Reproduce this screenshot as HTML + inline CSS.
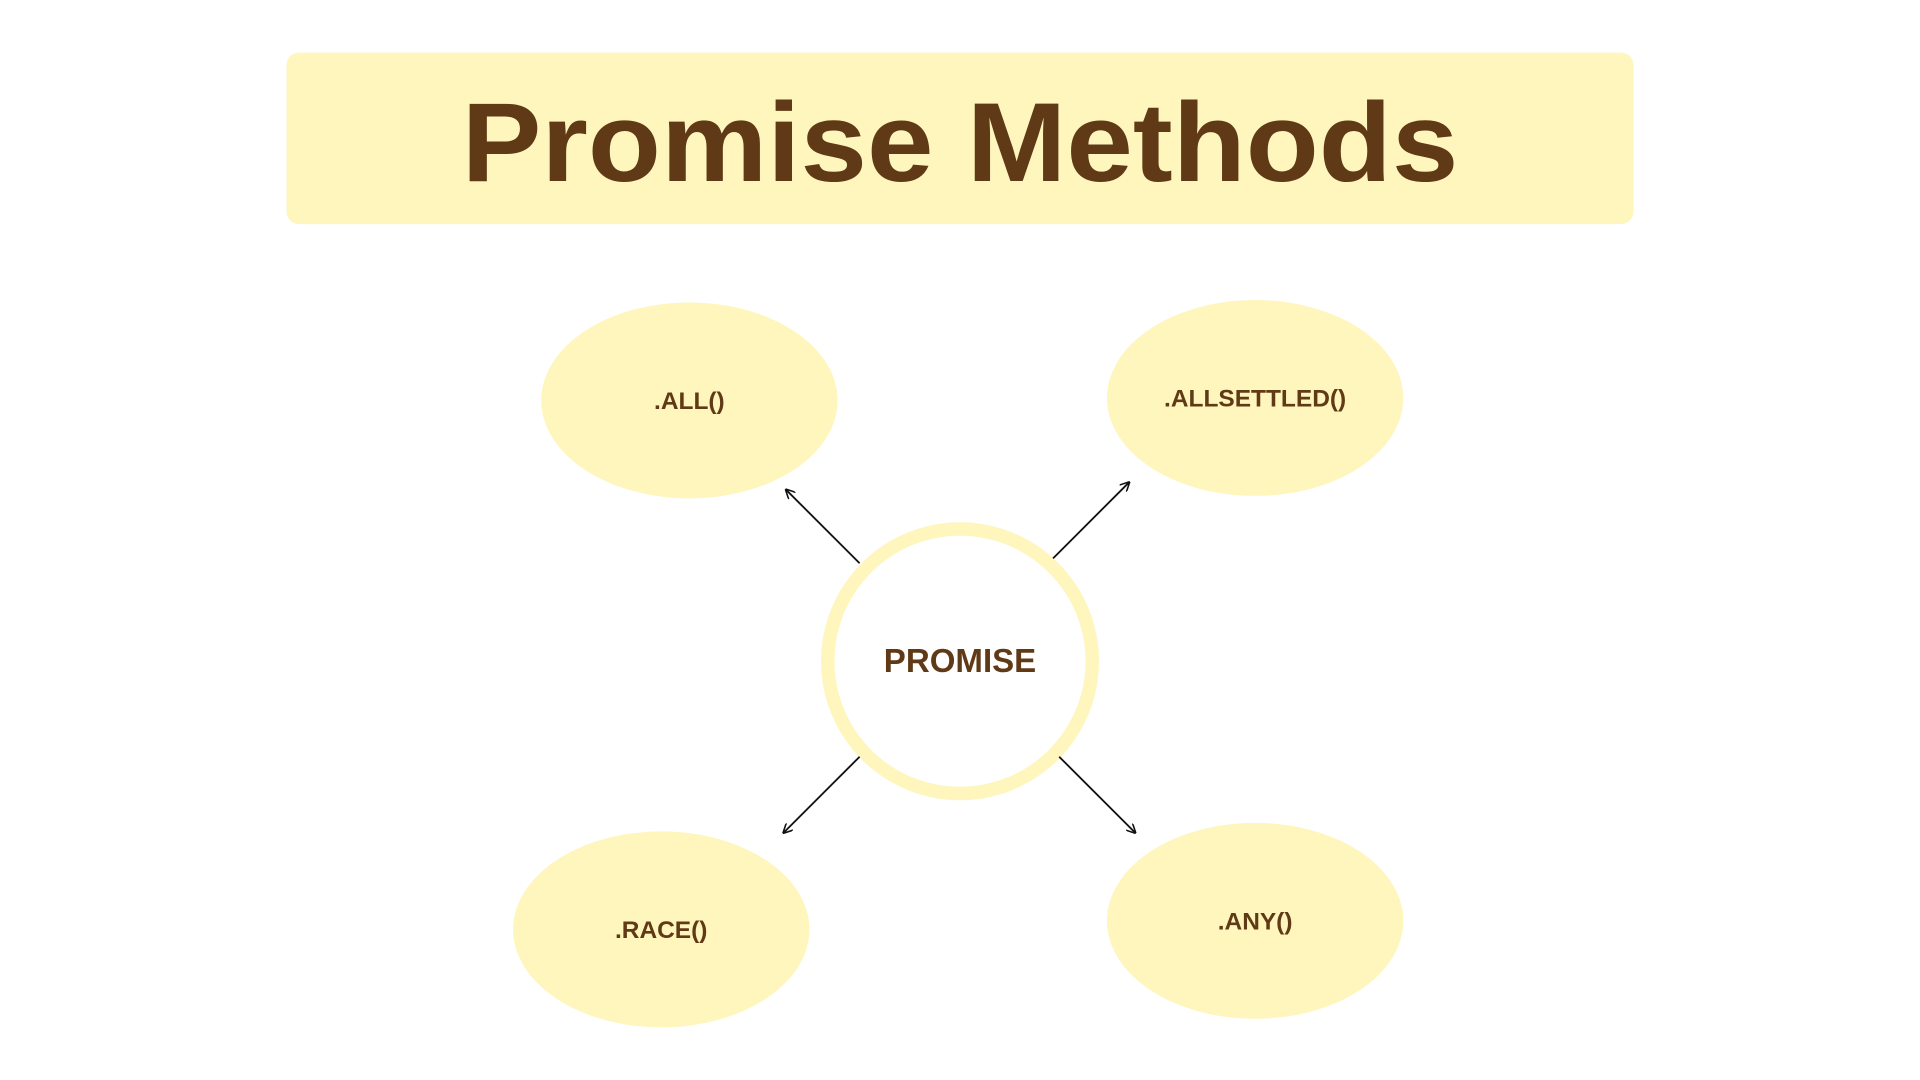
<!DOCTYPE html>
<html><head><meta charset="utf-8"><style>
html,body{margin:0;padding:0;background:#fff;}
svg{display:block;}
</style></head><body>
<svg width="1920" height="1080" viewBox="0 0 1568 882" preserveAspectRatio="none" xmlns="http://www.w3.org/2000/svg">
<defs>
<marker id="a" markerWidth="8" markerHeight="8" refX="7" refY="4" orient="auto" markerUnits="userSpaceOnUse">
<path d="M0,0 L8,4 L0,8" fill="none" stroke="#111" stroke-width="1.3"/>
</marker>
</defs>
<rect width="1568" height="882" fill="#fff"/>
<rect x="234" y="43" width="1100" height="140" rx="10" fill="#fef6bd"/>
<text x="784" y="148" text-anchor="middle" font-family="Liberation Sans, sans-serif" font-weight="bold" font-size="92" fill="#603a16" textLength="814" lengthAdjust="spacingAndGlyphs">Promise Methods</text>
<ellipse cx="563" cy="327" rx="121" ry="80" fill="#fef6bd"/>
<ellipse cx="1025" cy="325" rx="121" ry="80" fill="#fef6bd"/>
<ellipse cx="540" cy="759" rx="121" ry="80" fill="#fef6bd"/>
<ellipse cx="1025" cy="752" rx="121" ry="80" fill="#fef6bd"/>
<circle cx="784" cy="540" r="108" fill="#fff" stroke="#fef6bd" stroke-width="11"/>
<g font-family="Liberation Sans, sans-serif" font-weight="bold" fill="#603a16" text-anchor="middle">
<text x="563" y="334" font-size="20">.ALL()</text>
<text x="1025" y="332" font-size="20">.ALLSETTLED()</text>
<text x="540" y="766" font-size="20">.RACE()</text>
<text x="1025" y="759" font-size="20">.ANY()</text>
<text x="784" y="549" font-size="27">PROMISE</text>
</g>
<g stroke="#111" stroke-width="1.5" fill="none">
<line x1="702" y1="460" x2="642" y2="400" marker-end="url(#a)"/>
<line x1="860" y1="456" x2="922" y2="394" marker-end="url(#a)"/>
<line x1="702" y1="618" x2="640" y2="680" marker-end="url(#a)"/>
<line x1="865" y1="618" x2="927" y2="680" marker-end="url(#a)"/>
</g>
</svg>
</body></html>
